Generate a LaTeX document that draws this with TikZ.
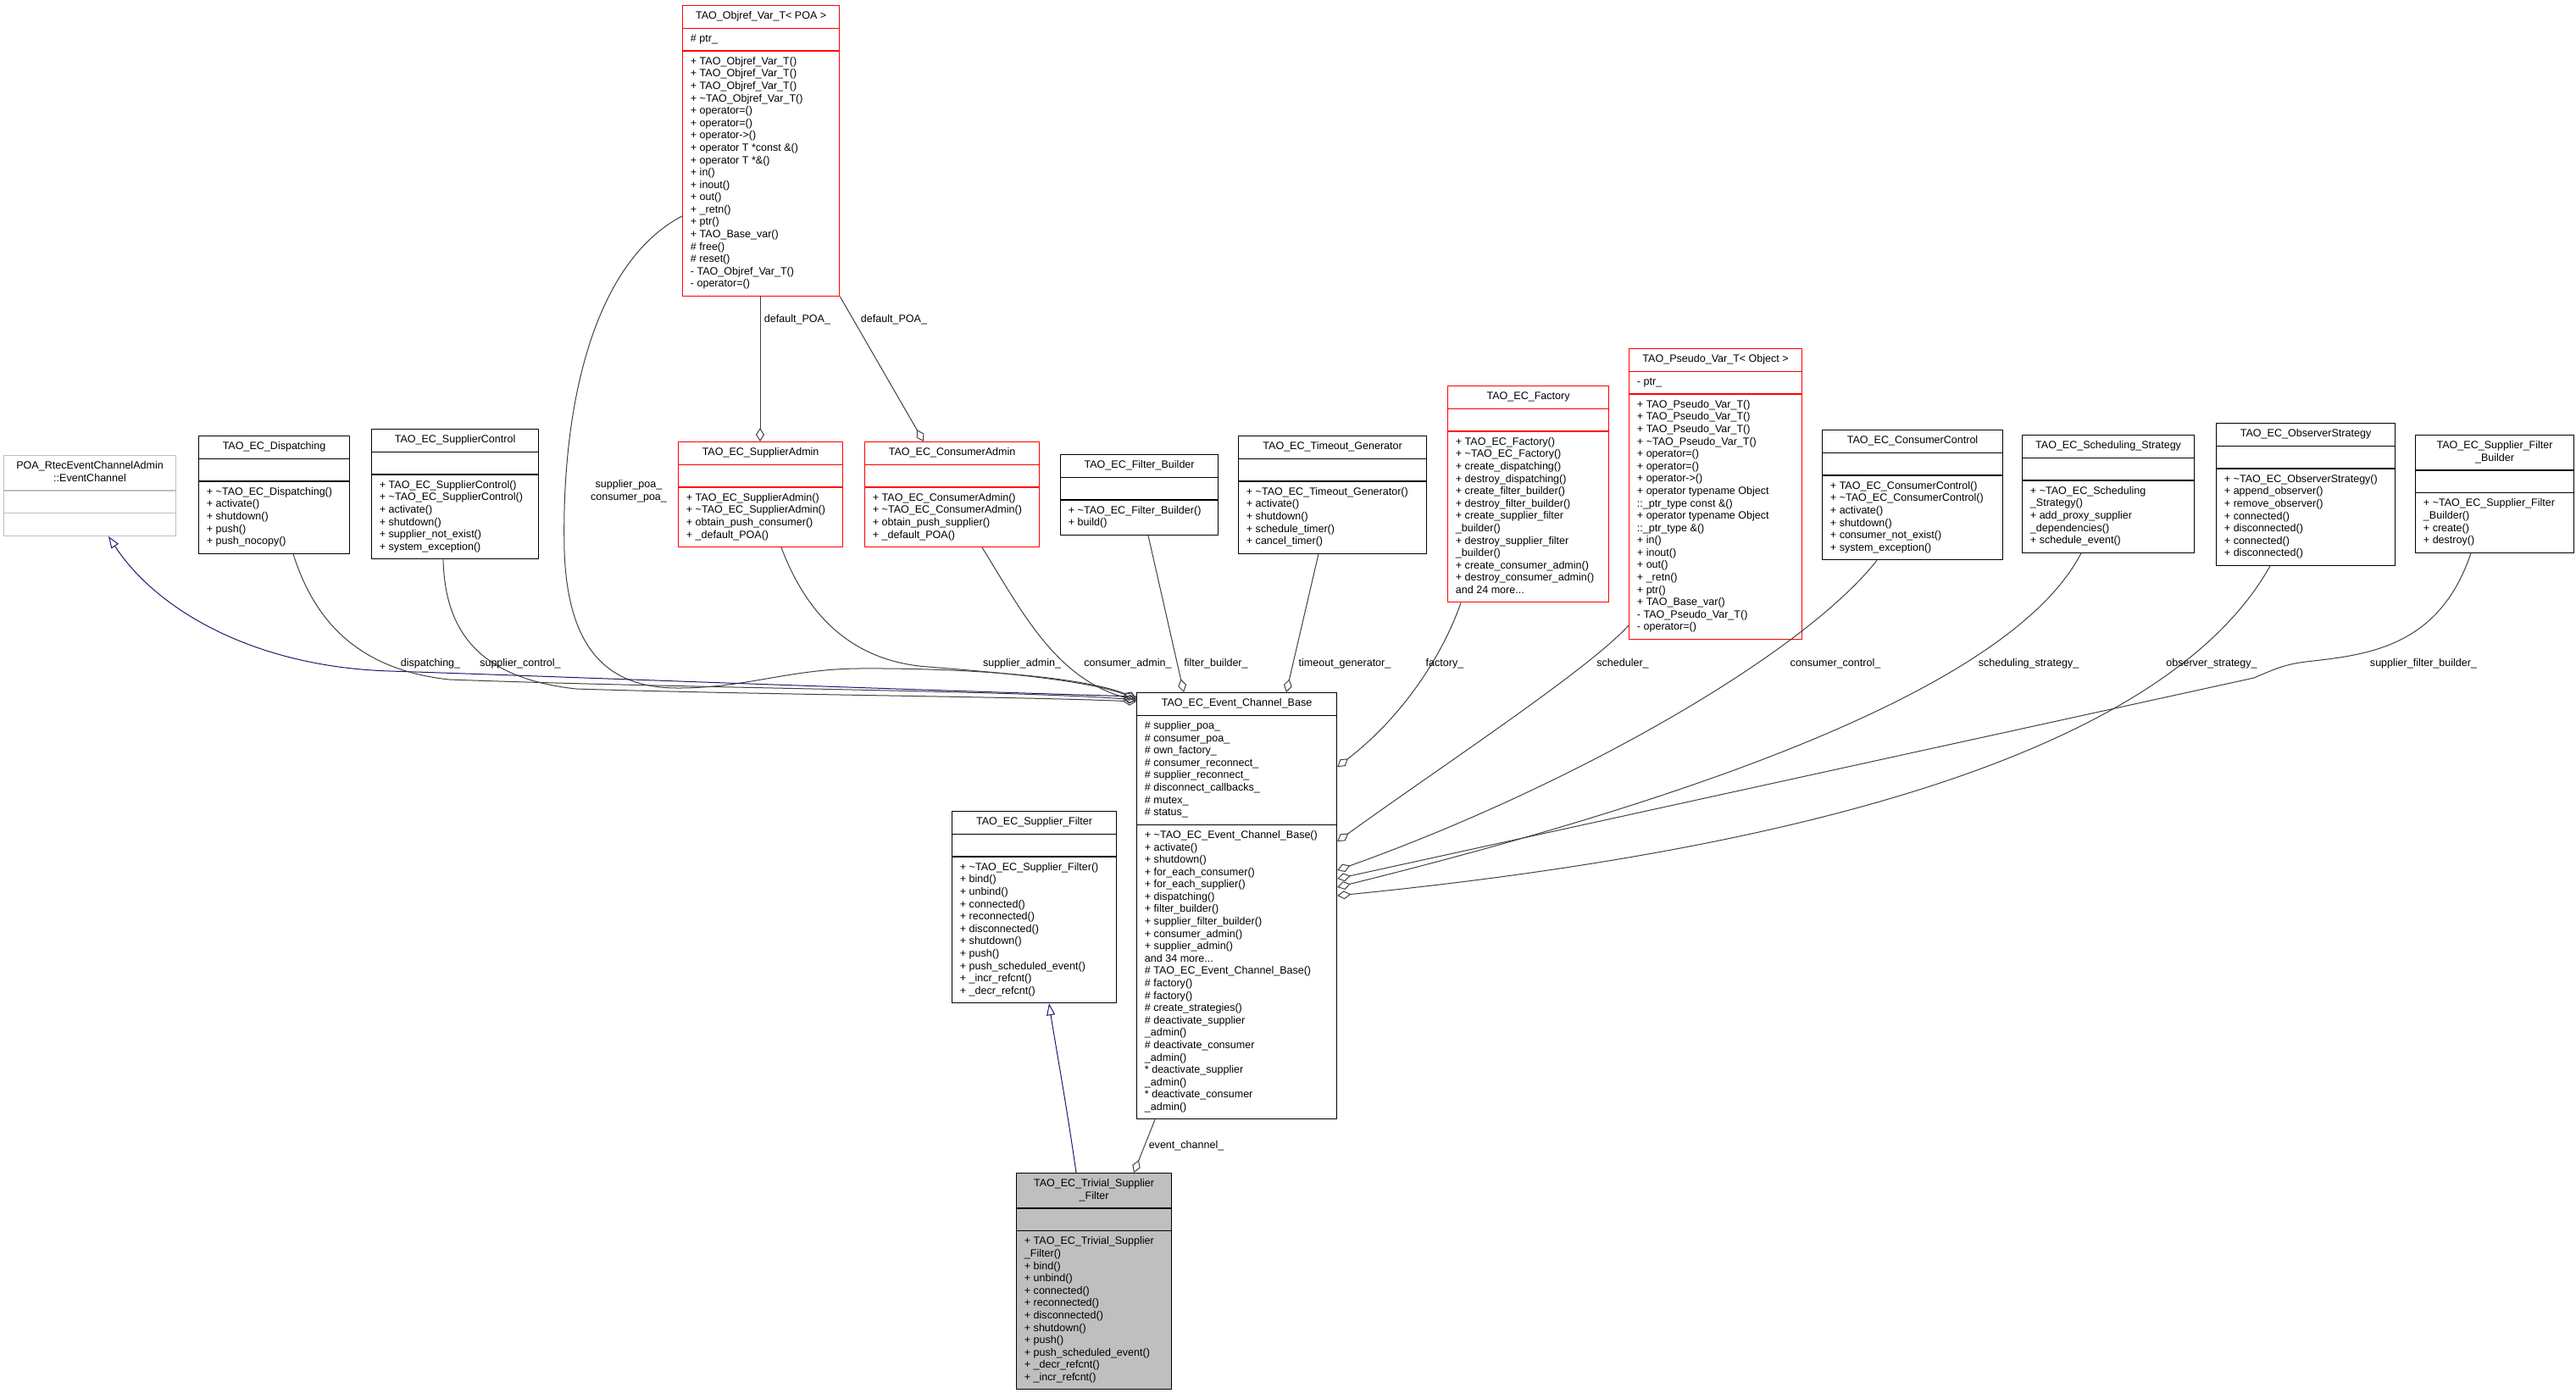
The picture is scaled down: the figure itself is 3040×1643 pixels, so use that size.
\documentclass[tikz,border=0pt]{standalone}
\usepackage{fontspec}
\setmainfont{Liberation Sans}
\usepackage{tikz}
\usetikzlibrary{shapes.multipart}
\usetikzlibrary{arrows.meta}
\usetikzlibrary{calc}
\definecolor{edgegray}{HTML}{404040}
\definecolor{inhblue}{HTML}{191970}
\definecolor{nodegray}{HTML}{BFBFBF}
\newcommand{\clsfont}{\fontsize{9.4}{10.94}\selectfont}
\newcommand{\ctitle}{\leftskip=0pt plus 1fill\rightskip=0pt plus 1fill\parfillskip=0pt\relax}
\setlength{\parindent}{0pt}
\tikzset{
  cls/.style={rectangle split, rectangle split parts=3, draw, line width=0.9pt, anchor=north west,
    align=flush left, inner xsep=7pt, inner ysep=4.1pt, font=\clsfont, fill=white},
  agg/.style={draw=edgegray, line width=0.75pt, -{Diamond[open, length=12pt, width=7.5pt]}},
  inh/.style={draw=inhblue, line width=0.75pt, -{Triangle[open, length=10.5pt, width=7.5pt]}},
  lbl/.style={font=\clsfont, inner sep=1pt}
}

\begin{document}
\begin{tikzpicture}[x=0.75pt, y=-0.75pt]
    \useasboundingbox (0,0) rectangle (3040,1643);

    \node[cls, text width=124.8pt, draw=red] (obj) at (805,6) {\strut\ctitle TAO\_Objref\_Var\_T< POA >\strut\par
      \nodepart{two}\strut\# ptr\_\strut
      \nodepart{three}\strut + TAO\_Objref\_Var\_T()\\+ TAO\_Objref\_Var\_T()\\+ TAO\_Objref\_Var\_T()\\+ \textasciitilde TAO\_Objref\_Var\_T()\\+ operator=()\\+ operator=()\\+ operator->()\\+ operator T *const \&()\\+ operator T *\&()\\+ in()\\+ inout()\\+ out()\\+ \_retn()\\+ ptr()\\+ TAO\_Base\_var()\\\# free()\\\# reset()\\- TAO\_Objref\_Var\_T()\\- operator=()\strut};

    \node[cls, text width=138.2pt, draw=nodegray] (poa) at (4,537) {\strut\ctitle POA\_RtecEventChannelAdmin\\::EventChannel\strut\par
      \nodepart{two}\strut
      \nodepart{three}\strut};

    \node[cls, text width=119.5pt] (dsp) at (234,514) {\strut\ctitle TAO\_EC\_Dispatching\strut\par
      \nodepart{two}\strut
      \nodepart{three}\strut + \textasciitilde TAO\_EC\_Dispatching()\\+ activate()\\+ shutdown()\\+ push()\\+ push\_nocopy()\strut};

    \node[cls, text width=133.7pt] (spc) at (438,506) {\strut\ctitle TAO\_EC\_SupplierControl\strut\par
      \nodepart{two}\strut
      \nodepart{three}\strut + TAO\_EC\_SupplierControl()\\+ \textasciitilde TAO\_EC\_SupplierControl()\\+ activate()\\+ shutdown()\\+ supplier\_not\_exist()\\+ system\_exception()\strut};

    \node[cls, text width=131.5pt, draw=red] (sad) at (800,521) {\strut\ctitle TAO\_EC\_SupplierAdmin\strut\par
      \nodepart{two}\strut
      \nodepart{three}\strut + TAO\_EC\_SupplierAdmin()\\+ \textasciitilde TAO\_EC\_SupplierAdmin()\\+ obtain\_push\_consumer()\\+ \_default\_POA()\strut};

    \node[cls, text width=140.5pt, draw=red] (cad) at (1020,521) {\strut\ctitle TAO\_EC\_ConsumerAdmin\strut\par
      \nodepart{two}\strut
      \nodepart{three}\strut + TAO\_EC\_ConsumerAdmin()\\+ \textasciitilde TAO\_EC\_ConsumerAdmin()\\+ obtain\_push\_supplier()\\+ \_default\_POA()\strut};

    \node[cls, text width=125.5pt] (fbl) at (1251,536) {\strut\ctitle TAO\_EC\_Filter\_Builder\strut\par
      \nodepart{two}\strut
      \nodepart{three}\strut + \textasciitilde TAO\_EC\_Filter\_Builder()\\+ build()\strut};

    \node[cls, text width=152.5pt] (tmo) at (1461,514) {\strut\ctitle TAO\_EC\_Timeout\_Generator\strut\par
      \nodepart{two}\strut
      \nodepart{three}\strut + \textasciitilde TAO\_EC\_Timeout\_Generator()\\+ activate()\\+ shutdown()\\+ schedule\_timer()\\+ cancel\_timer()\strut};

    \node[cls, text width=128.5pt, draw=red] (fac) at (1708,455) {\strut\ctitle TAO\_EC\_Factory\strut\par
      \nodepart{two}\strut
      \nodepart{three}\strut + TAO\_EC\_Factory()\\+ \textasciitilde TAO\_EC\_Factory()\\+ create\_dispatching()\\+ destroy\_dispatching()\\+ create\_filter\_builder()\\+ destroy\_filter\_builder()\\+ create\_supplier\_filter\\\_builder()\\+ destroy\_supplier\_filter\\\_builder()\\+ create\_consumer\_admin()\\+ destroy\_consumer\_admin()\\and 24 more...\strut};

    \node[cls, text width=139pt, draw=red] (psv) at (1922,411) {\strut\ctitle TAO\_Pseudo\_Var\_T< Object >\strut\par
      \nodepart{two}\strut- ptr\_\strut
      \nodepart{three}\strut + TAO\_Pseudo\_Var\_T()\\+ TAO\_Pseudo\_Var\_T()\\+ TAO\_Pseudo\_Var\_T()\\+ \textasciitilde TAO\_Pseudo\_Var\_T()\\+ operator=()\\+ operator=()\\+ operator->()\\+ operator typename Object\\::\_ptr\_type const \&()\\+ operator typename Object\\::\_ptr\_type \&()\\+ in()\\+ inout()\\+ out()\\+ \_retn()\\+ ptr()\\+ TAO\_Base\_var()\\- TAO\_Pseudo\_Var\_T()\\- operator=()\strut};

    \node[cls, text width=145.7pt] (coc) at (2150,507) {\strut\ctitle TAO\_EC\_ConsumerControl\strut\par
      \nodepart{two}\strut
      \nodepart{three}\strut + TAO\_EC\_ConsumerControl()\\+ \textasciitilde TAO\_EC\_ConsumerControl()\\+ activate()\\+ shutdown()\\+ consumer\_not\_exist()\\+ system\_exception()\strut};

    \node[cls, text width=138.2pt] (sch) at (2386,513) {\strut\ctitle TAO\_EC\_Scheduling\_Strategy\strut\par
      \nodepart{two}\strut
      \nodepart{three}\strut + \textasciitilde TAO\_EC\_Scheduling\\\_Strategy()\\+ add\_proxy\_supplier\\\_dependencies()\\+ schedule\_event()\strut};

    \node[cls, text width=144.2pt] (obs) at (2615,499) {\strut\ctitle TAO\_EC\_ObserverStrategy\strut\par
      \nodepart{two}\strut
      \nodepart{three}\strut + \textasciitilde TAO\_EC\_ObserverStrategy()\\+ append\_observer()\\+ remove\_observer()\\+ connected()\\+ disconnected()\\+ connected()\\+ disconnected()\strut};

    \node[cls, text width=126.2pt] (sfb) at (2850,513) {\strut\ctitle TAO\_EC\_Supplier\_Filter\\\_Builder\strut\par
      \nodepart{two}\strut
      \nodepart{three}\strut + \textasciitilde TAO\_EC\_Supplier\_Filter\\\_Builder()\\+ create()\\+ destroy()\strut};

    \node[cls, text width=163pt] (ecb) at (1341,817) {\strut\ctitle TAO\_EC\_Event\_Channel\_Base\strut\par
      \nodepart{two}\strut\# supplier\_poa\_\\\# consumer\_poa\_\\\# own\_factory\_\\\# consumer\_reconnect\_\\\# supplier\_reconnect\_\\\# disconnect\_callbacks\_\\\# mutex\_\\\# status\_\strut
      \nodepart{three}\strut + \textasciitilde TAO\_EC\_Event\_Channel\_Base()\\+ activate()\\+ shutdown()\\+ for\_each\_consumer()\\+ for\_each\_supplier()\\+ dispatching()\\+ filter\_builder()\\+ supplier\_filter\_builder()\\+ consumer\_admin()\\+ supplier\_admin()\\and 34 more...\\\# TAO\_EC\_Event\_Channel\_Base()\\\# factory()\\\# factory()\\\# create\_strategies()\\\# deactivate\_supplier\\\_admin()\\\# deactivate\_consumer\\\_admin()\\{*} deactivate\_supplier\\\_admin()\\{*} deactivate\_consumer\\\_admin()\strut};

    \node[cls, text width=131.5pt] (sfl) at (1123,957) {\strut\ctitle TAO\_EC\_Supplier\_Filter\strut\par
      \nodepart{two}\strut
      \nodepart{three}\strut + \textasciitilde TAO\_EC\_Supplier\_Filter()\\+ bind()\\+ unbind()\\+ connected()\\+ reconnected()\\+ disconnected()\\+ shutdown()\\+ push()\\+ push\_scheduled\_event()\\+ \_incr\_refcnt()\\+ \_decr\_refcnt()\strut};

    \node[cls, text width=123.2pt, fill=nodegray] (tsf) at (1199,1384) {\strut\ctitle TAO\_EC\_Trivial\_Supplier\\\_Filter\strut\par
      \nodepart{two}\strut
      \nodepart{three}\strut + TAO\_EC\_Trivial\_Supplier\\\_Filter()\\+ bind()\\+ unbind()\\+ connected()\\+ reconnected()\\+ disconnected()\\+ shutdown()\\+ push()\\+ push\_scheduled\_event()\\+ \_decr\_refcnt()\\+ \_incr\_refcnt()\strut};

    \draw[agg] ($(obj.south west)+(92,0)$) -- ($(sad.north west)+(97,0)$);
    \draw[agg] (obj.south east) -- ($(cad.north west)+(70,0)$);
    \draw[agg] ($(obj.north west)+(0,249)$) .. controls (700,310) and (662,480) .. (666,650)
      .. controls (670,770) and (720,812) .. (800,812) .. controls (880,812) and (930,790) .. (1012,789)
      .. controls (1150,788) and (1280,800) .. ($(ecb.north west)+(0,7)$);
    \draw[inh] ($(ecb.north west)+(0,5)$) .. controls (1000,812) and (620,797) .. (460,792)
      .. controls (300,787) and (185,720) .. ($(poa.south west)+(124,0)$);
    \draw[agg] ($(dsp.south west)+(112,0)$) .. controls (370,730) and (420,790) .. (530,802)
      .. controls (800,812) and (1200,815) .. ($(ecb.north west)+(0,9)$);
    \draw[agg] ($(spc.south west)+(85,0)$) .. controls (525,740) and (560,800) .. (680,813)
      .. controls (900,820) and (1200,822) .. ($(ecb.north west)+(0,11)$);
    \draw[agg] ($(sad.south west)+(122,0)$) .. controls (950,720) and (1000,780) .. (1095,787)
      .. controls (1200,795) and (1290,805) .. ($(ecb.north west)+(0,8)$);
    \draw[agg] ($(cad.south west)+(139,0)$) .. controls (1205,720) and (1245,800) .. ($(ecb.north west)+(0,10)$);
    \draw[agg] ($(fbl.south west)+(104,0)$) -- ($(ecb.north west)+(56,0)$);
    \draw[agg] ($(tmo.south west)+(95,0)$) -- ($(ecb.north west)+(177,0)$);
    \draw[agg] ($(fac.south west)+(16,0)$) .. controls (1700,780) and (1650,850) .. ($(ecb.north east)+(0,88)$);
    \draw[agg] ($(psv.north west)+(0,327)$) .. controls (1875,790) and (1700,905) .. ($(ecb.north east)+(0,176)$);
    \draw[agg] ($(coc.south west)+(65,0)$) .. controls (2125,775) and (1850,930) .. ($(ecb.north east)+(0,210)$);
    \draw[agg] ($(sfb.south west)+(66,0)$) .. controls (2880,760) and (2800,772) .. (2730,780)
      .. controls (2700,783) and (2690,787) .. (2660,800) -- ($(ecb.north east)+(0,220)$);
    \draw[agg] ($(sch.south west)+(70,0)$) .. controls (2380,800) and (2050,930) .. ($(ecb.north east)+(0,230)$);
    \draw[agg] ($(obs.south west)+(64,0)$) .. controls (2560,880) and (2150,1000) .. ($(ecb.north east)+(0,240)$);
    \draw[agg] ($(ecb.south west)+(22,0)$) -- ($(tsf.north west)+(139,0)$);
    \draw[inh] ($(tsf.north west)+(71,0)$) .. controls (1258,1300) and (1245,1230) .. ($(sfl.south west)+(115,0)$);

    \node[lbl] (l-dpoa1) at (941,377) {default\_POA\_};
    \node[lbl] (l-dpoa2) at (1055,377) {default\_POA\_};
    \node[lbl, align=center] (l-poa) at (742,580) {supplier\_poa\_\\consumer\_poa\_};
    \node[lbl] (l-disp) at (508,783) {dispatching\_};
    \node[lbl] (l-spc) at (614,783) {supplier\_control\_};
    \node[lbl] (l-sad) at (1206,783) {supplier\_admin\_};
    \node[lbl] (l-cad) at (1331,783) {consumer\_admin\_};
    \node[lbl] (l-fbl) at (1435,783) {filter\_builder\_};
    \node[lbl] (l-tmo) at (1587,783) {timeout\_generator\_};
    \node[lbl] (l-fac) at (1705,783) {factory\_};
    \node[lbl] (l-psv) at (1915,783) {scheduler\_};
    \node[lbl] (l-coc) at (2166,783) {consumer\_control\_};
    \node[lbl] (l-sch) at (2394,783) {scheduling\_strategy\_};
    \node[lbl] (l-obs) at (2610,783) {observer\_strategy\_};
    \node[lbl] (l-sfb) at (2860,783) {supplier\_filter\_builder\_};
    \node[lbl] (l-evc) at (1400,1352) {event\_channel\_};
\end{tikzpicture}
\end{document}
